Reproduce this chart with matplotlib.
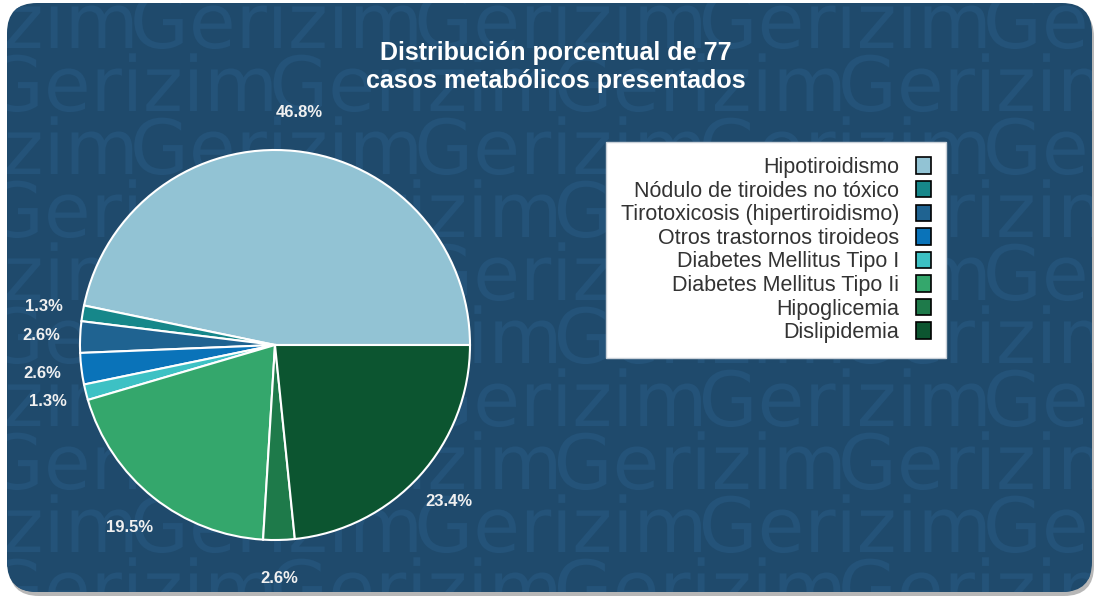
import numpy as np
import matplotlib.pyplot as plt
from matplotlib.patches import FancyBboxPatch, Patch, PathPatch
from matplotlib.textpath import TextPath
from matplotlib.font_manager import FontProperties
from matplotlib.transforms import Affine2D

plt.rcParams['font.family'] = ['Liberation Sans', 'DejaVu Sans']

# datos
categorias = ['Hipotiroidismo', 'Nódulo de tiroides no tóxico',
              'Tirotoxicosis (hipertiroidismo)', 'Otros trastornos tiroideos',
              'Diabetes Mellitus Tipo I', 'Diabetes Mellitus Tipo Ii',
              'Hipoglicemia', 'Dislipidemia']
casos = [36, 1, 2, 2, 1, 15, 2, 18]
colores = ['#92c3d4', '#16878a', '#1f6391', '#0a73b9',
           '#3dc1c4', '#34a76c', '#1e7a4a', '#0c5530']
titulo = 'Distribución porcentual de 77\ncasos metabólicos presentados'

W, H = 1094, 597
fondo = '#1f4a6c'
marca = '#245379'

fig = plt.figure(figsize=(W / 100, H / 100), dpi=100)
fig.patch.set_facecolor('white')

# fondo redondeado (en pixeles)
bg = fig.add_axes([0, 0, 1, 1])
bg.set_xlim(0, W)
bg.set_ylim(H, 0)
bg.axis('off')

sombra = FancyBboxPatch((9, 7), 1085, 589, boxstyle='round,pad=0,rounding_size=30',
                        fc='#888888', ec='none', alpha=0.6)
bg.add_patch(sombra)
caja = FancyBboxPatch((7, 3), 1085, 589, boxstyle='round,pad=0,rounding_size=30',
                      fc=fondo, ec='none')
bg.add_patch(caja)

# marca de agua (como trazos para poder recortarla)
fp = FontProperties(family='DejaVu Sans', style='normal', weight='normal')
tp = TextPath((0, 0), 'Gerizim', size=76, prop=fp)
ext = tp.get_extents()
paso = ext.width + 2
for i, y in enumerate(range(20, 620, 63)):
    x0 = 130 if i % 2 == 0 else -15
    x = x0 - paso
    while x < W:
        tr = Affine2D().scale(1, -1).translate(x, y + 28) + bg.transData
        pp = PathPatch(tp, fc=marca, ec='none', transform=tr)
        bg.add_patch(pp)
        pp.set_clip_path(caja)
        x += paso

# titulo
bg.text(556, 67, titulo, ha='center', va='center', fontsize=18,
        fontweight='bold', color='white', linespacing=1.25)

# pastel
cx, cy, r = 275, 345, 195
lim = 1.05
pie_ax = fig.add_axes([(cx - r * lim) / W, (H - cy - r * lim) / H,
                       2 * r * lim / W, 2 * r * lim / H])
wedges, _ = pie_ax.pie(casos, colors=colores, startangle=0, counterclock=True,
                       wedgeprops=dict(edgecolor='white', linewidth=1.5))
pie_ax.set_xlim(-lim, lim)
pie_ax.set_ylim(-lim, lim)
pie_ax.axis('off')

total = sum(casos)
prev = None
for w, v in zip(wedges, casos):
    ang = np.deg2rad((w.theta1 + w.theta2) / 2)
    x, y = 1.2 * np.cos(ang), 1.2 * np.sin(ang)
    # evitar que se encimen las etiquetas pequeñas
    if x < 0 and prev is not None and prev[0] < 0 and prev[1] - y < 0.145:
        y = prev[1] - 0.145
    pie_ax.text(x, y, f'{100 * v / total:.1f}%', ha='center', va='center',
                color='#f0f0f0', fontweight='bold', fontsize=12)
    prev = (x, y)

# leyenda
handles = [Patch(facecolor=c, edgecolor='black', linewidth=1.2) for c in colores]
leg = bg.legend(handles, categorias, loc='upper left',
                bbox_to_anchor=(606 / W, 1 - 142 / H), bbox_transform=fig.transFigure,
                markerfirst=False, fontsize=15.5, frameon=True, fancybox=False,
                framealpha=1, facecolor='white', edgecolor='#c8d0d8',
                borderaxespad=0, borderpad=0.7, labelspacing=0.12,
                handlelength=0.7, handleheight=0.8, handletextpad=0.75)
for t in leg.get_texts():
    t.set_color('#333333')

fig.savefig('out.png', dpi=100)
